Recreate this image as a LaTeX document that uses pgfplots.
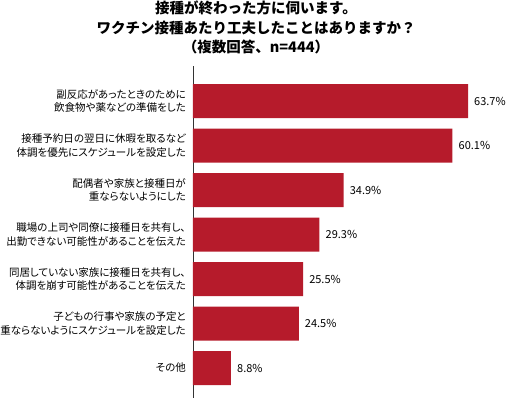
\documentclass[border=0pt]{standalone}
\usepackage{pgfplots}
\pgfplotsset{compat=1.18}
\usepackage{fontspec}
\setmainfont{Noto Sans CJK JP}
\newfontfamily\lbl[RawFeature={+palt}]{Noto Sans CJK JP}
\definecolor{barred}{RGB}{182,27,43}
\begin{document}
\begin{tikzpicture}
\path[use as bounding box] (0,0) rectangle (506pt,398pt);
\node[font=\bfseries\fontsize{14.5}{19.5}\selectfont, align=center, anchor=north, inner sep=0pt] at (256pt,397pt) {接種が終わった方に伺います。\\ワクチン接種あたり工夫したことはありますか？\\（複数回答、n=444）};
\begin{axis}[
 at={(193pt,0pt)}, anchor=south west,
 scale only axis, width=313pt, height=332pt,
 xbar, bar width=34pt,
 xmin=0, xmax=72.5,
 ymin=0.213, ymax=7.674, y dir=reverse,
 axis x line=none, axis y line*=left,
 y axis line style={draw=black!80, line width=0.8pt},
 xtick=\empty,
 ytick={1,...,7}, major tick length=0pt,
 yticklabels={{副反応があったときのために\\飲食物や薬などの準備をした},
  {接種予約日の翌日に休暇を取るなど\\体調を優先にスケジュールを設定した},
  {配偶者や家族と接種日が\\重ならないようにした},
  {職場の上司や同僚に接種日を共有し、\\出勤できない可能性があることを伝えた},
  {同居していない家族に接種日を共有し、\\体調を崩す可能性があることを伝えた},
  {子どもの行事や家族の予定と\\重ならないようにスケジュールを設定した},
  {その他}},
 yticklabel style={align=right, font=\lbl\fontsize{10.5}{13.3}\selectfont, inner sep=0pt, xshift=-7pt},
 /pgf/number format/assume math mode=true,
 point meta=x,
 nodes near coords={\pgfmathprintnumber[fixed,fixed zerofill,precision=1]{\pgfplotspointmeta}\%},
 nodes near coords style={anchor=west, inner sep=0pt, xshift=6pt, font=\fontsize{11}{13}\selectfont},
]
\addplot[fill=barred, draw=none] coordinates {(63.7,1) (60.1,2) (34.9,3) (29.3,4) (25.5,5) (24.5,6) (8.8,7)};
\end{axis}
\end{tikzpicture}
\end{document}
